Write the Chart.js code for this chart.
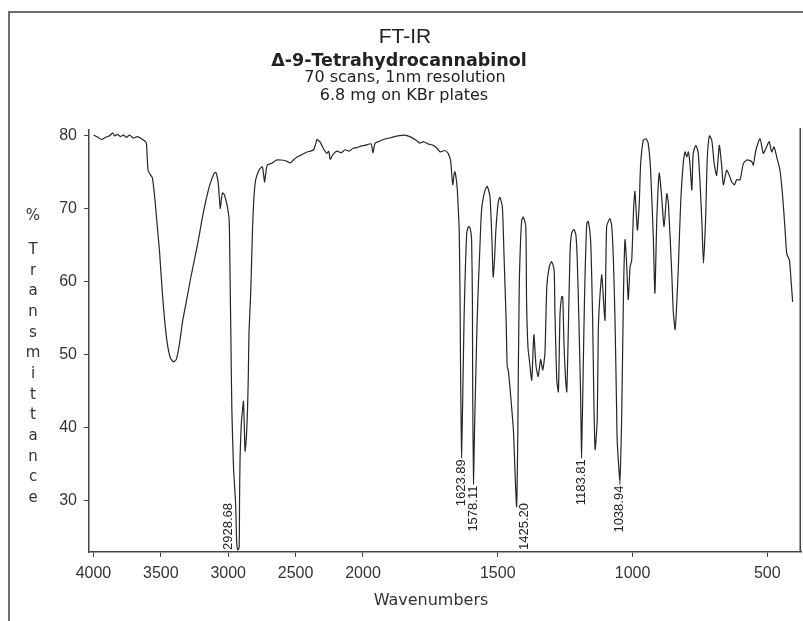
<!DOCTYPE html>
<html>
<head>
<meta charset="utf-8">
<title>FT-IR Δ-9-Tetrahydrocannabinol</title>
<script src="https://cdn.jsdelivr.net/npm/chart.js@4.4.1/dist/chart.umd.min.js"></script>
<style>
  html, body { margin: 0; padding: 0; background: #fff; }
  #irChart { display: block; }
</style>
</head>
<body>
<canvas id="irChart" width="803" height="621"></canvas>
<script>
// Spectrum: wavenumber (cm-1) and % transmittance
const wavenumbers = [
  3998, 3976, 3939, 3909, 3880, 3858, 3843, 3821, 3799, 3777, 3755, 3732, 3703, 3673, 3644, 3620,
  3607, 3595, 3578, 3563, 3546, 3526, 3509, 3489, 3472, 3452, 3430, 3408, 3386, 3364, 3337, 3305,
  3277, 3226, 3194, 3165, 3135, 3104, 3091, 3074, 3059, 3050, 3042, 3028, 3017, 3006, 2993, 2988,
  2980, 2973, 2961, 2951, 2944, 2940, 2936, 2929, 2919, 2916, 2912, 2903, 2894, 2887, 2881, 2875,
  2866, 2857, 2851, 2846, 2833, 2820, 2809, 2796, 2772, 2747, 2737, 2730, 2720, 2710, 2673, 2641,
  2612, 2575, 2538, 2516, 2489, 2457, 2415, 2391, 2366, 2354, 2341, 2332, 2317, 2295, 2268, 2254,
  2243, 2221, 2192, 2162, 2133, 2103, 2074, 2044, 2015,
  1993, 1970, 1963, 1955, 1937, 1915, 1892, 1870, 1848, 1826, 1803, 1789, 1776, 1759, 1739, 1725,
  1714, 1696, 1684, 1675, 1671, 1667, 1662, 1659, 1654, 1650, 1646, 1643, 1640, 1638, 1636, 1634,
  1630, 1625, 1620, 1615, 1610, 1606, 1601, 1597, 1594, 1593, 1590, 1586, 1581, 1577, 1572, 1568,
  1560, 1547, 1539, 1529, 1522, 1517, 1512, 1507, 1498, 1492, 1483, 1477, 1469, 1465, 1461, 1455,
  1442, 1436, 1430, 1426, 1424, 1420, 1416, 1411, 1405, 1396, 1393, 1388, 1383, 1374, 1366, 1358,
  1350, 1341, 1333, 1325, 1318, 1309, 1300, 1291, 1288, 1281, 1275, 1269, 1263, 1259, 1254, 1249,
  1244, 1239, 1232, 1226, 1217, 1210, 1205, 1199, 1193, 1189, 1183, 1178, 1170, 1164, 1155, 1148,
  1144, 1139, 1131, 1127, 1121, 1114, 1108, 1102, 1096, 1084, 1077, 1071, 1065, 1059, 1057, 1047,
  1040, 1034, 1028, 1022, 1016, 1009, 1003, 996, 991, 982, 975, 970, 960, 950, 942, 933,
  923, 917, 910, 901, 892, 883, 873, 867, 855, 849, 842, 836, 830, 821, 812, 805,
  799, 793, 787, 780, 775, 765, 756, 743, 737, 729, 723, 715, 706, 697, 688, 678,
  669, 663, 651, 641, 632, 622, 614, 601, 589, 576, 558, 552, 542, 527, 515, 505,
  493, 484, 475, 465, 453, 443, 434, 428, 418, 412, 406
];
const transmittance = [
  80.0, 79.8, 79.4, 79.7, 79.9, 80.3, 79.9, 80.1, 79.8, 80.0, 79.7, 80.0, 79.6, 79.8, 79.5, 79.2,
  78.9, 75.2, 74.6, 74.2, 71.6, 67.5, 63.9, 58.5, 54.7, 51.5, 49.6, 49.0, 49.3, 51.2, 54.7, 57.8,
  60.6, 65.2, 68.5, 71.1, 73.3, 74.8, 74.9, 73.4, 70.0, 71.3, 72.1, 71.8, 71.1, 70.2, 68.4, 63.0,
  52.0, 42.4, 34.7, 31.5, 29.2, 26.0, 24.0, 23.3, 23.6, 30.0, 36.0, 40.5, 42.4, 43.6, 40.5, 36.8,
  38.5, 42.4, 47.0, 52.9, 58.5, 67.0, 71.5, 73.9, 75.2, 75.7, 74.5, 73.6, 75.0, 75.9, 76.2, 76.6,
  76.6, 76.5, 76.2, 76.6, 77.0, 77.3, 77.7, 77.8, 78.0, 78.6, 79.4, 79.3, 79.0, 78.2, 77.5, 77.8,
  76.7, 77.4, 77.8, 77.6, 78.0, 77.8, 78.2, 78.3, 78.5,
  78.6, 78.8, 77.6, 78.9, 79.2, 79.5, 79.7, 79.9, 80.0, 79.8, 79.3, 78.9, 79.1, 78.8, 78.6, 78.2,
  77.7, 77.9, 77.5, 76.5, 74.8, 73.2, 74.6, 75.0, 74.0, 72.5, 69.5, 67.0, 58.0, 48.0, 41.0, 36.5,
  44.0, 55.0, 62.0, 66.6, 67.4, 67.5, 67.0, 65.7, 57.0, 45.0, 32.9, 40.0, 48.0, 54.0, 59.5, 63.0,
  69.8, 72.5, 73.0, 71.6, 66.1, 60.6, 63.0, 67.0, 70.9, 71.5, 70.2, 63.8, 54.7, 48.4, 47.8, 45.6,
  39.7, 34.0, 29.2, 38.0, 46.5, 60.0, 65.0, 68.4, 68.8, 67.5, 57.0, 51.0, 49.3, 46.5, 52.7, 48.4,
  47.0, 49.3, 47.9, 50.2, 59.3, 62.0, 62.7, 61.6, 56.0, 46.5, 44.9, 55.6, 57.9, 57.9, 51.1, 47.0,
  44.9, 52.0, 63.8, 66.6, 67.1, 66.3, 62.9, 54.7, 45.0, 36.5, 48.0, 58.0, 67.9, 68.2, 65.2, 54.7,
  45.0, 37.0, 41.1, 53.4, 58.0, 60.9, 57.5, 54.7, 67.5, 68.6, 67.5, 62.9, 54.7, 42.4, 38.3, 32.9,
  42.0, 57.5, 65.7, 62.5, 57.5, 62.0, 62.9, 70.0, 72.3, 67.0, 70.7, 76.0, 79.3, 79.5, 78.9, 75.2,
  66.1, 58.4, 68.4, 74.8, 71.6, 67.5, 72.0, 70.7, 61.6, 56.0, 53.4, 57.0, 62.0, 71.1, 76.1, 77.7,
  77.0, 77.7, 76.1, 72.5, 77.5, 78.6, 77.5, 68.4, 62.5, 68.4, 76.6, 79.9, 79.3, 76.1, 74.5, 78.6,
  75.7, 73.2, 75.2, 74.5, 73.6, 73.2, 73.9, 73.9, 76.1, 76.6, 76.4, 75.9, 78.0, 79.5, 77.5, 78.2,
  79.1, 77.7, 78.4, 77.0, 75.2, 71.6, 67.0, 63.8, 62.9, 60.2, 57.2
];

const xTicks = [4000, 3500, 3000, 2500, 2000, 1500, 1000, 500];
const yTicks = [30, 40, 50, 60, 70, 80];
const peakMarks = [2928.68, 1623.89, 1578.11, 1425.20, 1183.81, 1038.94];

const titleLines = [
  'FT-IR',
  'Δ-9-Tetrahydrocannabinol',
  '70 scans, 1nm resolution',
  '6.8 mg on KBr plates'
];
const yTitle = '% Transmittance';
const xTitle = 'Wavenumbers';

// IR plots are drawn with a scale change at 2000 cm-1 (above it, half density)
const warp = w => (w > 2000 ? 2000 + (w - 2000) / 2 : w);
const unwarp = u => (u > 2000 ? 2000 + (u - 2000) * 2 : u);

class IrScale extends Chart.LinearScale {
  getPixelForValue(value) {
    const a = warp(this.min), b = warp(this.max);
    return this.getPixelForDecimal((warp(value) - a) / (b - a));
  }
  getValueForPixel(pixel) {
    const a = warp(this.min), b = warp(this.max);
    return unwarp(a + this.getDecimalForPixel(pixel) * (b - a));
  }
}
IrScale.id = 'irscale';
IrScale.defaults = Chart.LinearScale.defaults;
Chart.register(IrScale);

function nearestIndex(w) {
  let best = 0;
  wavenumbers.forEach((v, i) => {
    if (Math.abs(v - w) < Math.abs(wavenumbers[best] - w)) best = i;
  });
  return best;
}

// lowest point of the spectrum close to a labelled peak
function lowestNear(w) {
  let best = -1;
  wavenumbers.forEach((v, i) => {
    if (Math.abs(v - w) <= 20 && (best < 0 || transmittance[i] < transmittance[best])) best = i;
  });
  return best;
}

const irDecor = {
  id: 'irDecor',
  afterDraw(chart) {
    const { ctx, chartArea: area } = chart;
    const xs = chart.scales.x, ys = chart.scales.y;
    ctx.save();

    // frame of the page
    ctx.strokeStyle = '#6e6e6e';
    ctx.lineWidth = 2;
    ctx.beginPath();
    ctx.moveTo(9, chart.height);
    ctx.lineTo(9, 12);
    ctx.lineTo(chart.width, 12);
    ctx.stroke();

    // right edge of the plot
    ctx.strokeStyle = '#444';
    ctx.lineWidth = 1.5;
    ctx.beginPath();
    ctx.moveTo(area.right - 0.75, area.top - 2);
    ctx.lineTo(area.right - 0.75, area.bottom);
    ctx.stroke();

    // heading
    const fonts = [
      '21px "Liberation Sans", Arial, sans-serif',
      'bold 17.5px "DejaVu Sans", sans-serif',
      '16px "DejaVu Sans", sans-serif',
      '16px "DejaVu Sans", sans-serif'
    ];
    const baselines = [43, 66, 82, 100];
    const centers = [405, 399, 405, 404];
    ctx.fillStyle = '#222';
    ctx.textAlign = 'center';
    ctx.textBaseline = 'alphabetic';
    titleLines.forEach((t, i) => {
      ctx.font = fonts[i];
      ctx.fillText(t, centers[i], baselines[i]);
    });

    // y title, one letter under the other
    const [pct, word] = yTitle.split(' ');
    ctx.font = '15px "DejaVu Sans", sans-serif';
    ctx.fillStyle = '#333';
    ctx.textBaseline = 'middle';
    ctx.fillText(pct, 33, 216);
    word.split('').forEach((c, i) => ctx.fillText(c, 33, 250 + i * 20.67));

    // x title
    ctx.font = '16px "DejaVu Sans", sans-serif';
    ctx.fillText(xTitle, 431, 601);

    // peak labels
    ctx.font = '13px "Liberation Sans", Arial, sans-serif';
    ctx.fillStyle = '#222';
    ctx.strokeStyle = '#222';
    ctx.lineWidth = 1;
    ctx.textAlign = 'left';
    const tAt = px => transmittance[nearestIndex(xs.getValueForPixel(px))];
    peakMarks.forEach(mark => {
      const i = lowestNear(mark);
      const px = xs.getPixelForValue(wavenumbers[i]);
      const py = ys.getPixelForValue(transmittance[i]);
      const text = mark.toFixed(2);
      const len = ctx.measureText(text).width;
      let lx = px, bottom = py + 6 + len;
      if (bottom > area.bottom - 2) {
        lx = px + (tAt(px - 8) > tAt(px + 8) ? -9 : 8);
        bottom = area.bottom - 2;
      } else {
        ctx.beginPath();
        ctx.moveTo(px, py);
        ctx.lineTo(px, py + 5);
        ctx.stroke();
      }
      ctx.save();
      ctx.translate(lx, bottom);
      ctx.rotate(-Math.PI / 2);
      ctx.fillText(text, 0, 0);
      ctx.restore();
    });

    ctx.restore();
  }
};

const points = wavenumbers.map((w, i) => ({ x: w, y: transmittance[i] }));

const ctx = document.getElementById('irChart').getContext('2d');
const irChart = new Chart(ctx, {
  type: 'line',
  data: {
    datasets: [{
      label: 'Δ-9-THC',
      data: points,
      borderColor: '#262626',
      borderWidth: 1.2,
      pointRadius: 0,
      tension: 0.2,
      fill: false
    }]
  },
  options: {
    responsive: false,
    animation: false,
    devicePixelRatio: 1,
    layout: { padding: { top: 130, left: 0, right: 2, bottom: 0 } },
    plugins: {
      legend: { display: false },
      tooltip: { enabled: false },
      title: { display: false }
    },
    scales: {
      x: {
        type: 'irscale',
        min: 375,
        max: 4033,
        reverse: true,
        afterBuildTicks: s => { s.ticks = xTicks.map(v => ({ value: v })); },
        afterFit: s => { s.height = 69; },
        grid: { drawOnChartArea: false, drawTicks: true, tickLength: 5, color: '#444', lineWidth: 1 },
        border: { display: true, color: '#444', width: 1.5 },
        ticks: {
          callback: v => String(v),
          autoSkip: false,
          maxRotation: 0,
          padding: 7,
          color: '#333',
          font: { family: '"Liberation Sans", Arial, sans-serif', size: 16 }
        }
      },
      y: {
        type: 'linear',
        min: 23,
        max: 80.7,
        afterBuildTicks: s => { s.ticks = yTicks.map(v => ({ value: v })); },
        afterFit: s => { s.width = 89; },
        grid: { drawOnChartArea: false, drawTicks: true, tickLength: 5, color: '#444', lineWidth: 1 },
        border: { display: true, color: '#444', width: 1.5 },
        ticks: {
          padding: 7,
          color: '#333',
          font: { family: '"Liberation Sans", Arial, sans-serif', size: 16 }
        }
      }
    }
  },
  plugins: [irDecor]
});
</script>
</body>
</html>
